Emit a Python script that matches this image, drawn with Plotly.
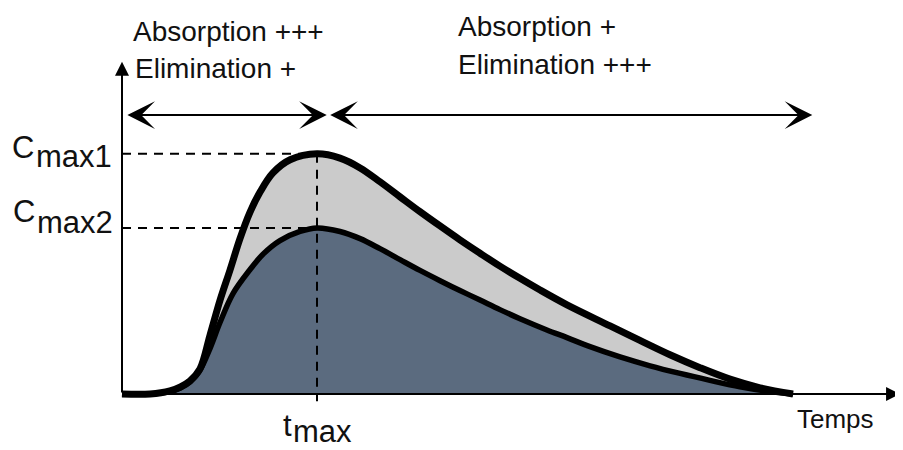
import plotly.graph_objects as go

# ---- data (time in arbitrary units, concentration in arbitrary units) ----
t_high = [0, 1.44, 2.46, 3.0, 3.49, 4.0, 4.51, 5.03, 5.54, 6.05, 6.56, 7.08, 7.74, 8.62, 10.0,
          11.18, 12.21, 13.23, 14.26, 15.28, 16.31, 17.33, 18.36, 19.38, 20.41, 21.44,
          22.82, 25.03, 26.56, 28.1, 29.64, 31.18, 32.72, 34.41]
c_high = [0, 0, 0.13, 0.3, 0.55, 1.05, 2.45, 3.93, 5.19, 6.5, 7.6, 8.45, 9.25, 9.8, 10.05,
          9.87, 9.46, 8.88, 8.25, 7.63, 7.03, 6.45, 5.89, 5.35, 4.84, 4.35,
          3.73, 2.85, 2.24, 1.64, 1.10, 0.62, 0.26, 0]

t_low = [0, 1.44, 2.46, 3.0, 3.49, 4.0, 4.51, 5.03, 5.69, 6.56, 7.23, 8.10, 9.13, 10.0,
         11.18, 12.21, 13.23, 14.26, 15.28, 16.31, 17.33, 18.36, 19.38, 20.41, 21.79,
         22.82, 24.0, 25.54, 27.08, 28.62, 30.15, 31.69, 33.23, 34.41]
c_low = [0, 0, 0.1, 0.25, 0.5, 1.0, 1.9, 3.0, 4.2, 5.2, 5.85, 6.42, 6.8, 6.95,
         6.8, 6.5, 6.08, 5.62, 5.17, 4.74, 4.33, 3.93, 3.53, 3.15, 2.68,
         2.36, 1.98, 1.55, 1.18, 0.86, 0.57, 0.3, 0.1, 0]

phase_labels = ["Absorption +++", "Elimination +", "Absorption +", "Elimination +++"]
axis_label = "Temps"

cmax1 = max(c_high)
cmax2 = max(c_low)
tmax = t_high[c_high.index(cmax1)]

# ---- geometry helpers (screen pixel -> paper); page body has an 8px margin ----
OFF = 8
W, H = 903 - OFF, 450 - OFF
def fx(px):
    return (px - OFF) / W
def fy(py):
    return 1 - (py - OFF) / H

XR = [(OFF - 122) / 19.5, (903 - 122) / 19.5]
YR = [(394 - 450) / 23.9, (394 - OFF) / 23.9]

SM = 1.0
fig = go.Figure()
fig.add_trace(go.Scatter(x=t_high, y=c_high, mode="lines", fill="tozeroy",
                         fillcolor="#cbcbcb", line=dict(width=0, shape="spline", smoothing=SM),
                         hoverinfo="skip", showlegend=False))
fig.add_trace(go.Scatter(x=t_low, y=c_low, mode="lines", fill="tozeroy",
                         fillcolor="#5b6b7f", line=dict(width=0, shape="spline", smoothing=SM),
                         hoverinfo="skip", showlegend=False))
fig.add_trace(go.Scatter(x=t_low, y=c_low, mode="lines",
                         line=dict(width=5.5, color="black", shape="spline", smoothing=SM),
                         hoverinfo="skip", showlegend=False))
fig.add_trace(go.Scatter(x=t_high, y=c_high, mode="lines",
                         line=dict(width=7, color="black", shape="spline", smoothing=SM),
                         hoverinfo="skip", showlegend=False))

dash = "9px,7px"
fig.add_shape(type="line", x0=0, x1=tmax, y0=cmax1, y1=cmax1,
              line=dict(color="black", width=2, dash=dash))
fig.add_shape(type="line", x0=0, x1=tmax, y0=cmax2, y1=cmax2,
              line=dict(color="black", width=2, dash=dash))
fig.add_shape(type="line", x0=tmax, x1=tmax, y0=cmax1, y1=-0.3,
              line=dict(color="black", width=2, dash=dash))

ann = []
# axes arrows
ann.append(dict(x=0, y=13.9, ax=0, ay=0, xref="x", yref="y", axref="x", ayref="y",
                text="", showarrow=True, arrowhead=2, arrowsize=1.4, arrowwidth=2,
                arrowcolor="black", standoff=0))
ann.append(dict(x=39.9, y=0, ax=0, ay=0, xref="x", yref="y", axref="x", ayref="y",
                text="", showarrow=True, arrowhead=2, arrowsize=1.4, arrowwidth=2,
                arrowcolor="black", standoff=0))
# phase double arrows
for x0, x1 in [(0.2, 10.5), (10.6, 35.4)]:
    ann.append(dict(x=x1, y=11.67, ax=x0, ay=11.67, xref="x", yref="y", axref="x", ayref="y",
                    text="", showarrow=True, arrowhead=3, startarrowhead=3, arrowside="end+start",
                    arrowsize=2.3, startarrowsize=2.3, arrowwidth=2, arrowcolor="black",
                    standoff=0, startstandoff=0))

font_main = dict(family="Liberation Sans, Arial, sans-serif", color="#111111")

def text(s, px, py, size):
    ann.append(dict(x=fx(px), y=fy(py), xref="paper", yref="paper", text=s,
                    showarrow=False, xanchor="left", yanchor="middle", borderpad=0,
                    font=dict(size=size, **font_main)))

text(phase_labels[0], 132, 31, 28)
text(phase_labels[1], 134, 69, 28)
text(phase_labels[2], 457, 27, 28)
text(phase_labels[3], 457, 65, 28)
text(axis_label, 796, 419, 26)

text("C", 11, 147.5, 31)
text("max1", 35, 156.6, 31)
text("C", 12, 211.5, 31)
text("max2", 36, 222.6, 31)
text("t", 282, 425.5, 31)
text("max", 292, 431.5, 31)

fig.update_layout(
    width=W, height=H,
    margin=dict(l=0, r=0, t=0, b=0),
    paper_bgcolor="white", plot_bgcolor="white",
    xaxis=dict(range=XR, visible=False, fixedrange=True),
    yaxis=dict(range=YR, visible=False, fixedrange=True),
    annotations=ann,
    showlegend=False,
)

fig.write_html("out.html")
